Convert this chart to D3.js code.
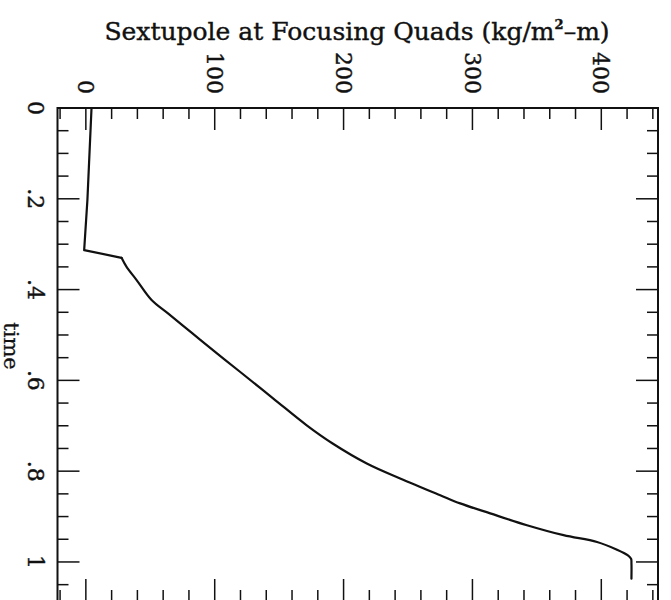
<!DOCTYPE html>
<html>
<head>
<meta charset="utf-8">
<script src="https://cdn.jsdelivr.net/npm/d3@7"></script>
<style>
	body { margin: 0; background: #fff; }
	svg { display: block; }
</style>
</head>
<body>
<div id="chart"></div>
<script>
// time along the vertical axis, sextupole strength along the horizontal one
const times = [0, 0.203, 0.313, 0.33, 0.35, 0.379, 0.423, 0.452, 0.496, 0.54, 0.581, 0.64, 0.699, 0.739, 0.783, 0.816, 0.853, 0.871, 0.893, 0.919, 0.941, 0.956, 0.973, 0.985, 0.993, 1.003, 1.037];
const values = [4.4, 1.2, -1.3, 27.7, 31.6, 39.4, 51.0, 63.5, 82.5, 101.5, 119.6, 145.5, 171.4, 191.5, 218.0, 243.9, 275, 290.5, 313.8, 342.3, 370.7, 396.7, 412.2, 420.4, 423.1, 423.4, 423.4];
// the first points are joined by straight pieces, the ramp after them is smooth
const rampStart = 3;

const valueTicks = d3.range(-20, 441, 20);
const valueLabels = [0, 100, 200, 300, 400];
const timeTicks = d3.range(0, 1.0501, 0.05);
const timeLabels = [0, 0.2, 0.4, 0.6, 0.8, 1];

const titleText = "Sextupole at Focusing Quads (kg/m";
const axisLabel = "time";

render();

function render() {
	const width = 671;
	const height = 600;
	const font = "'DejaVu Serif', serif";
	const ink = "#111";

	const svg = d3.select("#chart")
		.append("svg")
		.attr("width", width)
		.attr("height", height);

	const x = d3.scaleLinear().domain([-22, 444]).range([57.5, 658]);
	const y = d3.scaleLinear().domain([0, 1.086]).range([108, 601]);

	const isMajorX = (v) => Math.abs(v % 100) < 1e-6;
	const isMajorY = (v) => Math.abs(Math.round(v * 100) % 20) < 1e-6;

	// frame
	svg.append("rect")
		.attr("x", x.range()[0])
		.attr("y", y.range()[0])
		.attr("width", x.range()[1] - x.range()[0])
		.attr("height", y.range()[1] - y.range()[0])
		.attr("fill", "none")
		.attr("stroke", ink)
		.attr("stroke-width", 2);

	// inward ticks on all four sides
	const tickG = svg.append("g")
		.attr("stroke", ink)
		.attr("stroke-width", 1.5);

	tickG.selectAll("line.top")
		.data(valueTicks)
		.enter()
		.append("line")
		.attr("x1", (d) => x(d))
		.attr("x2", (d) => x(d))
		.attr("y1", y.range()[0])
		.attr("y2", (d) => y.range()[0] + (isMajorX(d) ? 22 : 11));

	tickG.selectAll("line.bottom")
		.data(valueTicks)
		.enter()
		.append("line")
		.attr("x1", (d) => x(d))
		.attr("x2", (d) => x(d))
		.attr("y1", y.range()[1])
		.attr("y2", (d) => y.range()[1] - (isMajorX(d) ? 22 : 11));

	tickG.selectAll("line.left")
		.data(timeTicks)
		.enter()
		.append("line")
		.attr("y1", (d) => y(d))
		.attr("y2", (d) => y(d))
		.attr("x1", x.range()[0])
		.attr("x2", (d) => x.range()[0] + (isMajorY(d) ? 22 : 11));

	tickG.selectAll("line.right")
		.data(timeTicks)
		.enter()
		.append("line")
		.attr("y1", (d) => y(d))
		.attr("y2", (d) => y(d))
		.attr("x1", x.range()[1])
		.attr("x2", (d) => x.range()[1] - (isMajorY(d) ? 22 : 11));

	// value labels above the frame, turned a quarter clockwise
	svg.append("g")
		.selectAll("text")
		.data(valueLabels)
		.enter()
		.append("text")
		.attr("transform", (d) => `translate(${x(d)}, 94) rotate(90)`)
		.attr("text-anchor", "end")
		.attr("dy", "0.36em")
		.attr("fill", ink)
		.attr("stroke", ink)
		.attr("stroke-width", 0.4)
		.style("font-family", font)
		.style("font-size", "22px")
		.text((d) => d);

	// time labels left of the frame
	const fmtTime = (d) => (d === 0 ? "0" : d === 1 ? "1" : String(d).replace("0.", "."));
	svg.append("g")
		.selectAll("text")
		.data(timeLabels)
		.enter()
		.append("text")
		.attr("transform", (d) => `translate(36, ${y(d)}) rotate(90)`)
		.attr("text-anchor", "middle")
		.attr("dy", "0.36em")
		.attr("fill", ink)
		.attr("stroke", ink)
		.attr("stroke-width", 0.4)
		.style("font-family", font)
		.style("font-size", "22px")
		.text(fmtTime);

	svg.append("text")
		.attr("transform", `translate(12, 346) rotate(90)`)
		.attr("text-anchor", "middle")
		.attr("dy", "0.36em")
		.attr("fill", ink)
		.attr("stroke", ink)
		.attr("stroke-width", 0.3)
		.style("font-family", font)
		.style("font-size", "21px")
		.text(axisLabel);

	// title
	const title = svg.append("text")
		.attr("x", 357)
		.attr("y", 40)
		.attr("text-anchor", "middle")
		.attr("fill", ink)
		.attr("stroke", ink)
		.attr("stroke-width", 0.4)
		.style("font-family", font)
		.style("font-size", "25px");
	title.append("tspan").text(titleText);
	title.append("tspan")
		.attr("dy", -11)
		.style("font-size", "13px")
		.style("font-weight", "bold")
		.text("2");
	title.append("tspan")
		.attr("dy", 11)
		.text("\u2013m)");

	// curve: straight start, smooth ramp
	const pts = times.map((t, i) => [values[i], t]);
	const lineFlat = d3.line()
		.x((d) => x(d[0]))
		.y((d) => y(d[1]));
	const lineRamp = d3.line()
		.x((d) => x(d[0]))
		.y((d) => y(d[1]))
		.curve(d3.curveCatmullRom.alpha(0.5));

	const curveG = svg.append("g")
		.attr("fill", "none")
		.attr("stroke", ink)
		.attr("stroke-width", 2.2)
		.attr("stroke-linejoin", "round")
		.attr("stroke-linecap", "round");

	curveG.append("path")
		.datum(pts.slice(0, rampStart + 1))
		.attr("d", lineFlat);

	curveG.append("path")
		.datum(pts.slice(rampStart))
		.attr("d", lineRamp);
}
</script>
</body>
</html>
